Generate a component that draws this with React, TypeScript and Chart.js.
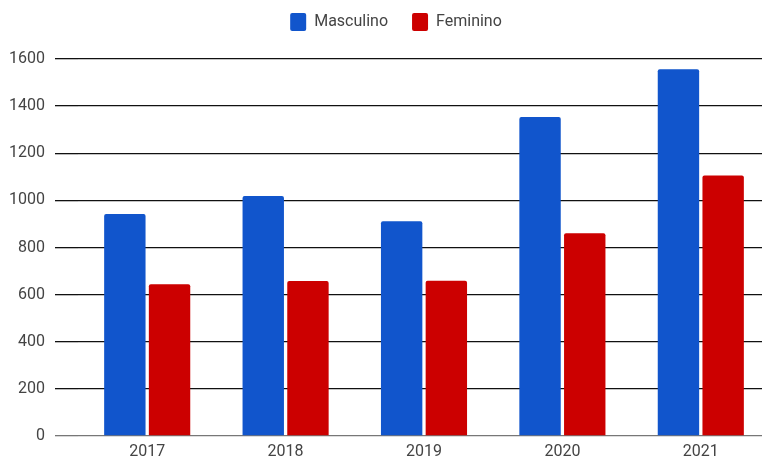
import React, { useEffect, useRef } from "react";
import { Chart, registerables } from "chart.js";

Chart.register(...registerables);

const categories = ["2017", "2018", "2019", "2020", "2021"];
const masculino = [942, 1019, 911, 1354, 1556];
const feminino = [644, 658, 659, 860, 1106];
const yTicks = [0, 200, 400, 600, 800, 1000, 1200, 1400, 1600];

const legendPlacement = {
  id: "legendPlacement",
  beforeInit(chart: any) {
    const legend = chart.legend;
    if (!legend) return;
    const orig = legend.fit;
    legend.fit = function () {
      orig.call(this);
      this.height = 59;
    };
  },
  afterLayout(chart: any) {
    const legend = chart.legend;
    if (!legend) return;
    legend.top -= 11;
    legend.bottom -= 11;
    legend.left += 11;
    legend.right += 11;
  },
};

export default function App() {
  const ref = useRef<HTMLCanvasElement | null>(null);
  useEffect(() => {
    if (!ref.current) return;
    const font = { family: "Roboto", size: 16 };
    const chart = new Chart(ref.current, {
      type: "bar",
      data: {
        labels: categories,
        datasets: [
          {
            label: "Masculino",
            data: masculino,
            backgroundColor: "#1155cc",
            borderRadius: { topLeft: 2, topRight: 2, bottomLeft: 0, bottomRight: 0 },
            borderSkipped: "start",
            categoryPercentage: 0.646,
            barPercentage: 0.926,
          },
          {
            label: "Feminino",
            data: feminino,
            backgroundColor: "#cc0000",
            borderRadius: { topLeft: 2, topRight: 2, bottomLeft: 0, bottomRight: 0 },
            borderSkipped: "start",
            categoryPercentage: 0.646,
            barPercentage: 0.926,
          },
        ],
      },
      options: {
        responsive: false,
        animation: false,
        layout: { padding: { left: 0, right: 32, top: 0, bottom: 0 } },
        plugins: {
          legend: {
            position: "top",
            labels: {
              font,
              color: "#444",
              boxWidth: 16,
              boxHeight: 18,
              useBorderRadius: true,
              borderRadius: 2,
              padding: 24,
            },
          },
          tooltip: { enabled: false },
        },
        scales: {
          x: {
            grid: { display: false, drawTicks: false },
            border: { display: false },
            ticks: { font, color: "#444", padding: 6 },
            afterFit: (s: any) => {
              s.height = 25;
            },
          },
          y: {
            min: 0,
            max: 1600,
            afterBuildTicks: (s: any) => {
              s.ticks = yTicks.map((v) => ({ value: v }));
            },
            border: { display: false },
            grid: {
              color: (ctx: any) => (ctx.tick && ctx.tick.value === 0 ? "#777" : "#111"),
              lineWidth: 1.3,
              tickLength: 23,
              drawTicks: true,
            },
            ticks: {
              font,
              color: "#444",
              padding: 10,
              callback: (v: any) => String(v),
            },
            afterFit: (s: any) => {
              s.width = 78;
            },
          },
        },
      },
      plugins: [legendPlacement],
    });
    return () => chart.destroy();
  }, []);
  return (
    <div
      style={{
        position: "fixed",
        left: 0,
        top: 0,
        width: 762,
        height: 461,
        overflow: "hidden",
        background: "#fff",
      }}
    >
      <canvas ref={ref} width={802} height={461} style={{ display: "block" }} />
    </div>
  );
}
